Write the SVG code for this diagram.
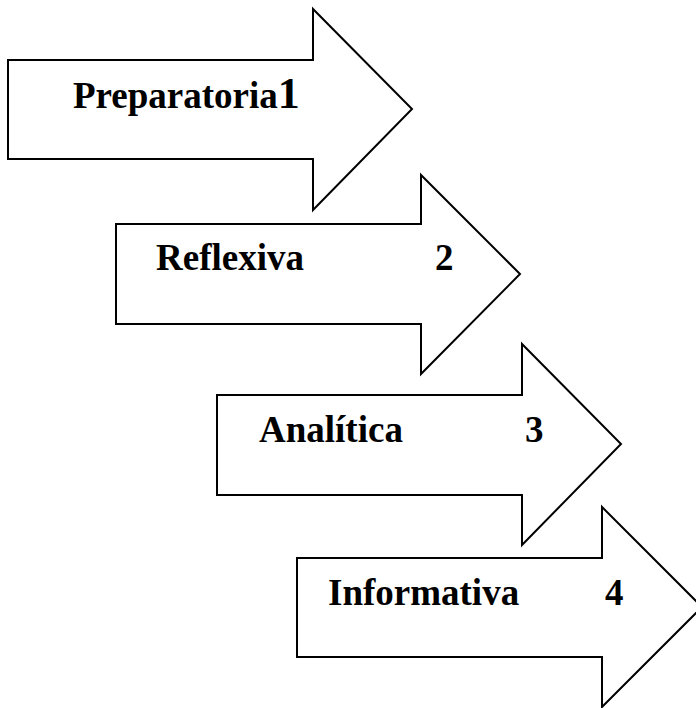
<svg xmlns="http://www.w3.org/2000/svg" width="696" height="708" viewBox="0 0 696 708">
  <style>
    .arrow { fill: #ffffff; stroke: #000000; stroke-width: 2; stroke-linejoin: miter; }
    .label { font-family: "Liberation Serif", "Times New Roman", serif; font-weight: bold; font-size: 37px; fill: #000000; }
  </style>
  <rect width="696" height="708" fill="#ffffff"/>

  <!-- Step 1 -->
  <g id="step1">
    <polygon class="arrow" points="8,60 313,60 313,9 412,109 313,210 313,159 8,159"/>
    <text class="label" x="73" y="108">Preparatoria<tspan font-size="44">1</tspan></text>
  </g>

  <!-- Step 2 -->
  <g id="step2">
    <polygon class="arrow" points="116,224 421,224 421,175 520,274 421,374 421,324 116,324"/>
    <text class="label" x="156" y="270">Reflexiva</text>
    <text class="label" x="435" y="270">2</text>
  </g>

  <!-- Step 3 -->
  <g id="step3">
    <polygon class="arrow" points="217,395 522,395 522,344 621,444 522,545 522,495 217,495"/>
    <text class="label" x="259" y="442">Analítica</text>
    <text class="label" x="525" y="442">3</text>
  </g>

  <!-- Step 4 -->
  <g id="step4">
    <polygon class="arrow" points="297,558 602,558 602,507 702,607 602,707 602,657 297,657"/>
    <text class="label" x="328" y="605">Informativa</text>
    <text class="label" x="605" y="605">4</text>
  </g>

  <g id="connectors"></g>
</svg>
